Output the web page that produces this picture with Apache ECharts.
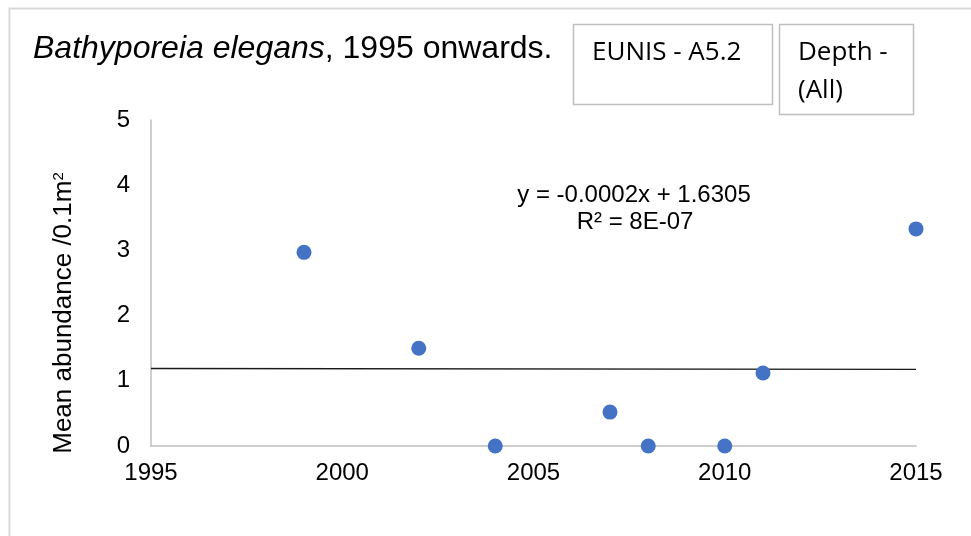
<!DOCTYPE html>
<html>
<head>
<meta charset="utf-8">
<script src="https://cdn.jsdelivr.net/npm/echarts@6/dist/echarts.min.js"></script>
<style>
  html, body { margin: 0; padding: 0; background: #ffffff; }
  #chart { width: 971px; height: 536px; }
</style>
</head>
<body>
<div id="chart"></div>
<script>
// Survey years and mean abundance per 0.1 m² for Bathyporeia elegans
const years = [1999, 2002, 2004, 2007, 2008, 2010, 2011, 2015];
const abundance = [2.97, 1.50, 0, 0.52, 0, 0, 1.12, 3.33];
const xTicks = [1995, 2000, 2005, 2010, 2015];
const yTicks = [0, 1, 2, 3, 4, 5];
const equationText = ['y = -0.0002x + 1.6305', 'R² = 8E-07'];

// Least-squares linear trend through the survey points
function linearFit(xs, ys) {
  const n = xs.length;
  const mx = xs.reduce((a, b) => a + b, 0) / n;
  const my = ys.reduce((a, b) => a + b, 0) / n;
  let sxy = 0, sxx = 0;
  for (let i = 0; i < n; i++) {
    sxy += (xs[i] - mx) * (ys[i] - my);
    sxx += (xs[i] - mx) * (xs[i] - mx);
  }
  const slope = sxy / sxx;
  return { slope, intercept: my - slope * mx };
}
const fit = linearFit(years, abundance);
const xMin = xTicks[0], xMax = xTicks[xTicks.length - 1];
const trend = [xMin, xMax].map(x => [x, fit.intercept + fit.slope * x]);

const chart = echarts.init(document.getElementById('chart'), null, { renderer: 'canvas' });
const font = 'Liberation Sans, Arial, sans-serif';
const boxFont = '26px "Open Sans", sans-serif';

chart.setOption({
  animation: false,
  backgroundColor: '#ffffff',
  title: {
    text: '{i|Bathyporeia elegans}, 1995 onwards.',
    left: 28,
    top: 28,
    textStyle: {
      fontFamily: font,
      fontSize: 32,
      fontWeight: 'normal',
      color: '#000000',
      rich: {
        i: { fontFamily: font, fontSize: 32, fontStyle: 'italic', color: '#000000' }
      }
    }
  },
  grid: { left: 151, right: 55, top: 120, bottom: 90, containLabel: false },
  xAxis: {
    type: 'value',
    min: xMin,
    max: xMax,
    interval: 5,
    axisLine: { show: true, onZero: false, lineStyle: { color: '#bfbfbf', width: 1.5 } },
    axisTick: { show: false },
    splitLine: { show: false },
    axisLabel: { fontFamily: font, fontSize: 24, color: '#000000', margin: 15,
                 formatter: v => String(v) }
  },
  yAxis: {
    type: 'value',
    min: yTicks[0],
    max: yTicks[yTicks.length - 1],
    interval: 1,
    axisLine: { show: true, lineStyle: { color: '#bfbfbf', width: 1.5 } },
    axisTick: { show: false },
    splitLine: { show: false },
    axisLabel: { fontFamily: font, fontSize: 24, color: '#000000', margin: 21 }
  },
  series: [
    {
      name: 'Trend',
      type: 'line',
      data: trend,
      showSymbol: false,
      symbol: 'none',
      lineStyle: { color: '#1a1a1a', width: 1.3 },
      z: 2
    },
    {
      name: 'Bathyporeia elegans',
      type: 'scatter',
      data: years.map((y, i) => [y, abundance[i]]),
      symbol: 'circle',
      symbolSize: 15,
      itemStyle: { color: '#4472C4', opacity: 1 },
      z: 3
    }
  ],
  graphic: [
    // outer chart frame
    { type: 'rect', shape: { x: 9.5, y: 8.5, width: 980, height: 560 },
      style: { fill: 'none', stroke: '#d9d9d9', lineWidth: 2 }, silent: true },
    // filter boxes
    { type: 'rect', shape: { x: 573.5, y: 24.5, width: 199, height: 80 },
      style: { fill: '#ffffff', stroke: '#bfbfbf', lineWidth: 1.5 } },
    { type: 'text', x: 592, y: 53,
      style: { text: 'EUNIS - A5.2', font: boxFont, verticalAlign: 'middle', fill: '#000000' } },
    { type: 'rect', shape: { x: 779.5, y: 24.5, width: 134, height: 90 },
      style: { fill: '#ffffff', stroke: '#bfbfbf', lineWidth: 1.5 } },
    { type: 'text', x: 798, y: 53,
      style: { text: 'Depth -', font: boxFont, verticalAlign: 'middle', fill: '#000000' } },
    { type: 'text', x: 798, y: 91,
      style: { text: '(All)', font: boxFont, verticalAlign: 'middle', fill: '#000000' } },
    // y-axis title with superscript unit
    { type: 'text', x: 64, y: 313, rotation: Math.PI / 2,
      style: {
        text: 'Mean abundance /0.1m{sup|2}',
        font: '26px ' + font,
        align: 'center', verticalAlign: 'middle', fill: '#000000',
        rich: { sup: { fontSize: 15, fontFamily: font, verticalAlign: 'top', padding: [0, 0, 10, 0] } }
      } },
    // trendline equation
    { type: 'text', x: 634, y: 195,
      style: { text: equationText[0], font: '24px ' + font, align: 'center',
               verticalAlign: 'middle', fill: '#000000' } },
    { type: 'text', x: 635, y: 222,
      style: { text: equationText[1], font: '24px ' + font, align: 'center',
               verticalAlign: 'middle', fill: '#000000' } }
  ]
});
</script>
</body>
</html>
